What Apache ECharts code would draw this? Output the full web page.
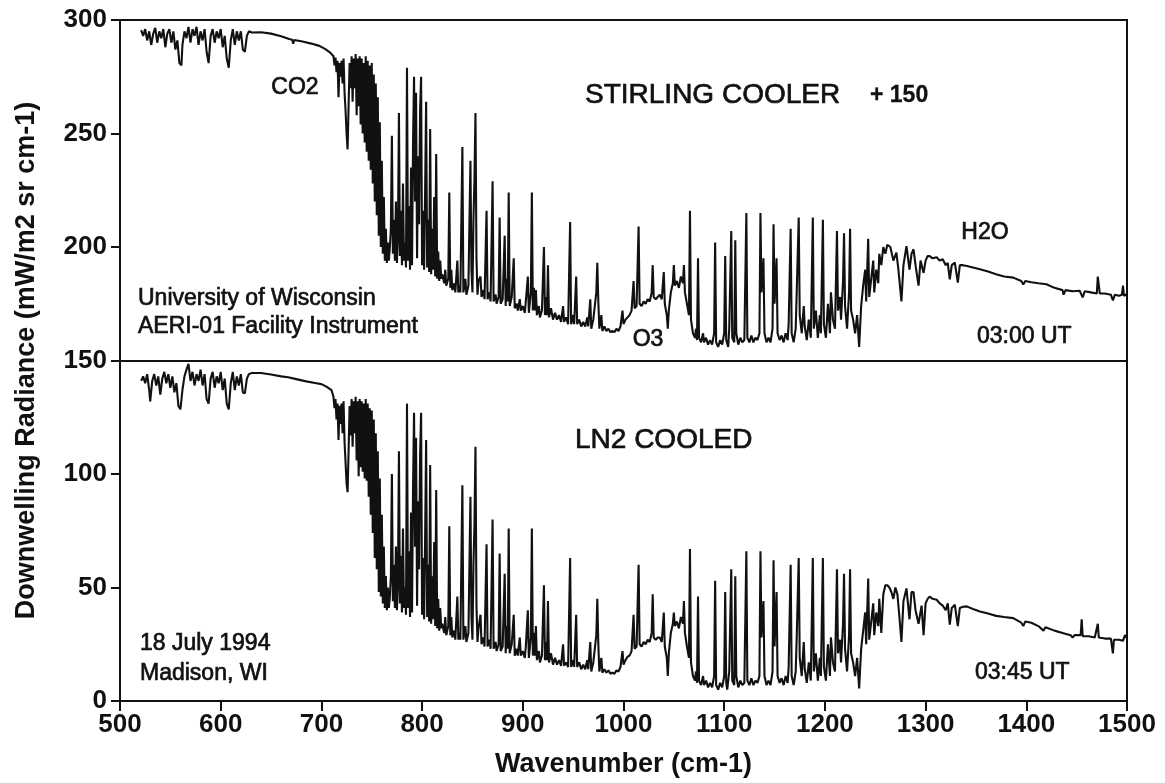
<!DOCTYPE html>
<html>
<head>
<meta charset="utf-8">
<title>AERI-01 downwelling radiance</title>
<script src="https://cdn.jsdelivr.net/npm/echarts@6/dist/echarts.min.js"></script>
<style>
  html, body { margin: 0; padding: 0; background: #ffffff; }
  #chart { width: 1165px; height: 783px; }
</style>
</head>
<body>
<div id="chart"></div>
<script>
// Offset applied to the Stirling-cooler spectrum so both spectra share one axis ("+ 150").
const STIRLING_OFFSET = 150;

// Stirling-cooler spectrum, 03:00 UT: [wavenumber cm-1, radiance mW/m2 sr cm-1]
const stirlingSpectrum = [
  [521,145.5],[523,143],[525,146],[527,141],[529,145],[531,139],[533,144],[535,146.5],[537,140],[539,145],
  [541,142],[543,146],[545,138],[547,144],[549,146],[551,140],[553,145],[555,137],[557,141],[559,131],
  [561,130],[562,139],[564,145],[566,142],[568,147],[570,140],[572,146],[574,143],[576,147],[578,139],
  [580,145],[582,141],[584,146],[586,136],[588,131],[590,143],[592,146],[594,140],[596,145],[598,142],
  [600,146],[602,138],[604,143],[606,133],[608,129],[610,141],[612,146],[614,139],[616,145],[618,141],
  [620,145],[622,137],[624,136],[626,143],[628,145],[631,144.5],
  [640,144.6],[650,144],[660,142.8],[668,141.6],[671,141.3],[672,139.5],[673,141.2],[680,140.6],[690,139.6],
  [698,138.6],[704,137.2],[709,135.5],[712,134],
  [713,130],[714,133.5],[715,127],[716,132],[717,116],[718,131],[719,125],[720,132],[721,122],[722,133],
  [723,118],[724,110],[725,100],[726,93],[727,112],[728,131],[729,120],[730,134],[731,114],[732,133],
  [733,120],[734,135],[735,108],[736,133],[737,112],[738,134],[739,104],[740,133],[741,100],[742,131],
  [743,96],[744,134],[745,92],[746,132],[747,88],[748,130],[749,84],[750,131],[751,78],[752,126],
  [753,70],[754,122],[755,64],[756,116],[757,55],[758,105],[759,50],[760,88],[761,47],[762,72],
  [763,44],[764,58],[765,43],[766,52],[767,44],
  [768,50],[769,58],[770,99],[771,47],[772,62],[773,44],[774,70],[775,43],[776,55],[777,109],
  [778,46],[779,66],[780,42],[781,78],[782,44],[783,52],[784,41],[785,129],[786,44],[787,68],
  [788,40],[789,85],[790,42],[791,96],[792,125],[793,70],[794,118],[795,45],[796,90],[797,60],
  [798,110],[799,125],[800,42],[801,66],[802,40],[803,75],[804,114],[805,41],[806,62],[807,39],
  [808,102],[809,38],[810,58],[811,40],[812,72],[813,37],[814,91],[815,36],[816,48],[817,35],
  [818,44],[819,36],[820,38],[822,34],[823,40],[824,33],[826,36],[827,74],[828,32],[829,40],
  [830,31],[832,34],[833,30],[835,44],[836,30],[837,33],[838,30],[840,94],[841,30],[843,36],
  [844,29],[846,33],[848,88],[849,40],[850,30],[851,62],[852,80],[853,109],[854,45],[855,29],
  [856,35],[858,37],[859,28],[861,31],[862,27],[864,66],[865,27],[867,30],[868,26],[870,79],
  [871,26],[873,29],[874,25],[876,28],[877,63],[878,25],[880,27],[882,55],[883,24],[884,36],
  [885,26],[886,74],[887,24],[889,28],[891,45],[892,23],[894,25],[895,22],[897,27],[898,22],
  [900,24],[902,21],[903,26],[905,37],[906,21],[908,30],[909,74],[910,22],[911,32],[912,22],
  [913,31],[914,20],[916,24],[917,19],[919,22],[921,50],[922,20],[923,28],[924,20],[925,42],
  [926,19],[928,23],[930,18],[932,21],[934,18],[936,20],[938,17],[940,24],[941,17],[943,19],
  [945,16],[947,61],[948,16],[950,20],[951,16],[953,37],[954,16],[956,18],[958,15],[960,17],
  [962,15],[964,19],[965,15],[967,27],[968,14],[970,18],[972,26],[973,30],[974,43],[975,26],
  [976,14],[978,20],[979,13],[981,15],[983,13],[985,14],[987,12.5],[989,13],[991,12.5],[993,14],
  [995,13],[997,15],[999,22],[1000,16],[1002,18],[1004,19],[1006,20],[1008,22],[1010,35],[1011,23],
  [1013,24],[1015,59],[1016,25],[1018,24],[1020,26],[1022,25],[1024,27],[1026,26],[1028,30],[1029,42],
  [1030,28],[1032,27],[1034,28],[1036,29],[1038,27],[1040,39],[1041,25],[1043,20],[1044,14],[1045,22],
  [1047,30],[1049,34],[1050,42],[1051,33],[1053,35],[1055,32],[1057,37],[1059,34],[1060,42],[1061,30],
  [1063,25],[1065,20],[1066,66],[1067,18],[1069,12],[1071,10],[1072,14],[1073,9],[1074,45],[1075,10],
  [1077,8],[1079,12],[1080,8],[1082,10],[1084,7],[1086,9],[1088,7],[1090,12],[1091,52],[1092,8],
  [1094,6],[1096,9],[1098,7],[1100,12],[1101,46],[1102,9],[1104,6],[1105,14],[1107,57],[1108,10],
  [1110,8],[1111,53],[1112,12],[1114,7],[1116,10],[1118,8],[1120,9],[1122,65],[1123,10],[1125,8],
  [1127,11],[1129,8],[1131,10],[1133,9],[1135,12],[1136,65],[1137,30],[1139,45],[1140,12],[1142,8],
  [1144,10],[1146,8],[1148,14],[1149,60],[1150,25],[1152,45],[1153,12],[1155,9],[1157,11],[1159,8],
  [1161,12],[1163,9],[1164,16],[1166,58],[1167,12],[1169,8],[1171,14],[1172,30],[1174,63],[1175,20],
  [1177,12],[1179,24],[1180,15],[1182,9],[1184,18],[1186,10],[1188,63],[1189,14],[1191,22],[1193,10],
  [1195,20],[1196,12],[1198,62],[1199,16],[1201,10],[1203,25],[1205,12],[1206,30],[1208,18],[1210,14],
  [1212,57],[1213,22],[1215,28],[1216,18],[1218,35],[1219,56],[1220,24],[1222,14],[1224,30],[1225,58],
  [1226,22],[1228,18],[1230,12],[1232,20],[1234,6],[1236,24],[1238,33],[1240,40],[1241,26],[1243,53.6],
  [1244,28],[1246,36],[1248,44],[1249,30],[1251,40],[1253,34],[1254,47],
  [1256,42],[1258,50],[1260,47],[1262,51],[1265,50],[1268,44],[1271,47.5],[1273,40],[1276,26],[1278,42],
  [1281,50.4],[1284,40],[1286,47],[1288,49],[1290,42],[1293,33],[1295,44],[1298,38.6],[1300,44],[1302,46],
  [1304,46],[1307,45],[1311,45.5],[1314,44],[1317,44.6],[1320,42],[1322,43],[1324,35.7],[1326,42],[1329,43.1],
  [1332,34.3],[1334,42],[1337,42],[1341,41.6],[1347,41],[1354,40.2],[1362,39.2],[1370,38],[1378,37],[1387,36.5],
  [1395,35],[1397,33.5],[1399,35],[1405,34.5],[1412,34],[1420,33.6],[1428,32],[1436,31],[1437,29],[1439,31],
  [1446,30.5],[1453,30.7],[1456,27.8],[1458,30.5],[1464,30],[1470,29.5],[1471,37],[1473,29.5],[1478,29.5],[1484,29],
  [1486,26.5],[1488,29],[1492,28.5],[1495,29],[1496,33],[1497,28.5],[1500,29.3]
];

// LN2-cooled spectrum, 03:45 UT: [wavenumber cm-1, radiance mW/m2 sr cm-1]
const ln2Spectrum = [
  [521,141],[523,143],[525,140],[527,144],[529,137],[530,132],[532,141],[534,144],[536,139],[538,143],
  [540,135],[542,142],[544,145],[546,140],[548,144],[550,138],[552,143],[554,136],[556,140],[558,130],
  [560,128.5],[562,137],[564,143],[566,146],[568,148.5],[570,141],[572,145],[574,139],[576,144],[578,141],
  [580,146],[582,139],[584,144],[586,133],[588,131],[590,142],[592,145],[594,138],[596,143],[598,140],
  [600,145],[602,137],[604,142],[606,131],[608,128.5],[610,140],[612,145],[614,137],[616,143],[618,139],
  [620,144],[622,136],[624,135.5],[626,142],[628,144],[631,144.5],
  [640,144.5],[650,143.8],[660,143],[667,142.6],[675,141.8],[685,140.8],[695,140],[700,139.6],[705,138.5],[710,137],
  [712,134],[713,129],[714,133],[715,124],[716,131],[717,115],[718,130],[719,122],[720,131],[721,118],
  [722,132],[723,114],[724,105],[725,96],[726,92],[727,110],[728,130],[729,117],[730,133],[731,112],
  [732,132],[733,118],[734,134],[735,106],[736,132],[737,99],[738,133],[739,103],[740,132],[741,101],
  [742,131],[743,98],[744,133],[745,97],[746,131],[747,90],[748,129],[749,82],[750,128],[751,74],
  [752,124],[753,63],[754,118],[755,58],[756,110],[757,48],[758,98],[759,46],[760,82],[761,43],
  [762,68],[763,41],[764,55],[765,40],[766,50],[767,41],
  [768,46],[769,55],[770,100],[771,44],[772,60],[773,41],[774,68],[775,40],[776,52],[777,110],
  [778,43],[779,64],[780,39],[781,76],[782,41],[783,50],[784,38],[785,131],[786,41],[787,66],
  [788,37],[789,83],[790,39],[791,94],[792,127],[793,68],[794,116],[795,42],[796,88],[797,58],
  [798,108],[799,127],[800,38],[801,63],[802,36],[803,72],[804,115],[805,37],[806,60],[807,35],
  [808,104],[809,34],[810,55],[811,36],[812,70],[813,33],[814,93],[815,32],[816,45],[817,31],
  [818,41],[819,32],[820,34],[822,30],[823,37],[824,29],[826,33],[827,77],[828,29],[829,37],
  [830,28],[832,31],[833,27],[835,46],[836,27],[837,30],[838,27],[840,95],[841,27],[843,33],
  [844,26],[846,30],[848,90],[849,37],[850,27],[851,60],[852,78],[853,112],[854,42],[855,26],
  [856,32],[858,38],[859,25],[861,28],[862,24],[864,69],[865,24],[867,27],[868,23],[870,80],
  [871,23],[873,26],[874,22],[876,25],[877,65],[878,22],[880,24],[882,56],[883,21],[884,33],
  [885,23],[886,76],[887,21],[889,25],[891,38],[892,20],[894,23],[895,20],[897,28],[898,20],
  [900,22],[902,19],[903,24],[905,40],[906,19],[908,28],[909,76],[910,20],[911,30],[912,20],
  [913,33],[914,18],[916,22],[917,17],[919,20],[921,51],[922,18],[923,26],[924,18],[925,44],
  [926,17],[928,21],[930,16],[932,19],[934,16],[936,18],[938,15.5],[940,25],[941,15.5],[943,17],
  [945,15],[947,63],[948,15],[950,18],[951,15],[953,38],[954,15],[956,17],[958,14],[960,16],
  [962,14],[964,18],[965,14],[967,26],[968,13],[970,17],[972,25],[973,29],[974,45],[975,25],
  [976,13],[978,19],[979,12.5],[981,14],[983,12.5],[985,13.5],[987,12],[989,12.5],[991,12],[993,13.5],
  [995,13],[997,15],[999,22],[1000,16],[1002,18],[1004,19.5],[1006,20],[1008,22],[1010,38],[1011,23],
  [1013,24],[1015,60],[1016,25],[1018,24],[1020,26],[1022,25],[1024,27],[1026,26],[1028,30],[1029,47],
  [1030,28],[1032,27],[1034,28],[1036,28],[1038,26],[1040,39],[1041,24],[1043,19],[1044,11],[1045,21],
  [1047,30],[1049,34],[1050,39],[1051,33],[1053,35],[1055,32],[1057,37],[1059,34],[1060,44],[1061,30],
  [1063,24],[1065,19],[1066,67],[1067,17],[1069,11],[1071,9],[1072,13],[1073,8],[1074,46],[1075,9],
  [1077,7],[1079,11],[1080,7],[1082,9],[1084,6],[1086,8],[1088,6],[1090,11],[1091,53],[1092,7],
  [1094,5],[1096,8],[1098,6],[1100,11],[1101,48],[1102,8],[1103,5],[1105,13],[1107,58],[1108,9],
  [1110,7],[1111,55],[1112,11],[1114,6],[1116,9],[1118,7],[1120,8],[1122,66],[1123,9],[1125,7],
  [1127,10],[1129,7],[1131,9],[1133,8],[1135,11],[1136,66],[1137,28],[1139,44],[1140,11],[1142,7],
  [1144,9],[1146,7],[1148,13],[1149,62],[1150,24],[1152,48],[1153,11],[1155,8],[1157,10],[1159,7],
  [1161,11],[1163,8],[1164,15],[1166,60],[1167,11],[1169,7],[1171,13],[1172,28],[1174,63],[1175,19],
  [1177,11],[1179,26],[1180,14],[1182,8],[1184,17],[1186,9],[1188,63],[1189,13],[1191,21],[1193,9],
  [1195,19],[1196,11],[1198,63],[1199,15],[1201,9],[1203,25],[1205,11],[1206,28],[1208,17],[1210,13],
  [1212,58],[1213,21],[1215,27],[1216,17],[1218,34],[1219,56],[1220,23],[1222,13],[1224,29],[1225,58],
  [1226,21],[1228,17],[1230,11],[1232,19],[1234,5.5],[1236,23],[1238,31],[1240,39],[1241,25],[1243,54],
  [1244,27],[1246,35],[1248,43],[1249,29],[1251,39],[1253,33],[1254,45],[1256,30],[1258,47],[1260,51],
  [1262,51],[1264,50],[1266,48],[1268,45],[1270,50],[1272,47],[1274,37],[1276,26],[1278,44],[1281,49.6],
  [1284,36],[1286,48],[1288,48],[1290,40],[1293,34],[1296,42],[1298,29],[1300,43],[1302,45],[1304,46],
  [1307,45],[1311,44.6],[1314,43],[1317,42],[1320,40],[1322,43],[1324,33.6],[1326,41],[1329,42.4],[1332,33],
  [1334,41],[1337,41.5],[1341,41.7],[1347,40.5],[1354,39.4],[1362,38.5],[1370,37.5],[1378,37],[1387,36.5],[1395,34.5],
  [1397,33],[1399,35],[1405,34.5],[1412,33],[1417,31],[1419,32.5],[1420,32.2],[1428,31],[1436,30],[1444,29],
  [1446,28],[1448,29],[1454,29],[1455,36],[1456,28.5],[1462,28.5],[1468,28],[1471,34],[1472,28],[1478,27.5],
  [1484,27.5],[1486,21],[1487,27],[1492,27],[1496,26.5],[1498,29],[1500,27.7]
];

// Axis ranges and tick steps
const xRange = [500, 1500];
const xStep = 100;
const yRange = [0, 300];
const yStep = 50;
// Boundary between the two stacked spectra
const panelDivider = 150;

const FONT = '"Liberation Sans", Arial, Helvetica, sans-serif';
const INK = '#111111';

// The Stirling spectrum is drawn shifted up by the labelled offset
const stirlingPlotted = stirlingSpectrum.map(p => [p[0], p[1] + STIRLING_OFFSET]);

function label(text, x, y, size, opts) {
  opts = opts || {};
  return {
    type: 'text',
    x: x, y: y,
    silent: true,
    z: 10,
    style: {
      text: text,
      font: (opts.weight || 'normal') + ' ' + size + 'px ' + FONT,
      fill: INK,
      stroke: INK,
      lineWidth: opts.stroke == null ? 0.7 : opts.stroke,
      align: opts.align || 'left',
      verticalAlign: 'middle'
    }
  };
}

const chart = echarts.init(document.getElementById('chart'), null, { renderer: 'canvas' });

chart.setOption({
  animation: false,
  backgroundColor: '#ffffff',
  grid: {
    left: 120, right: 38, top: 20, bottom: 80,
    show: true, borderColor: INK, borderWidth: 2, backgroundColor: 'transparent'
  },
  xAxis: {
    type: 'value',
    min: xRange[0], max: xRange[1], interval: xStep,
    axisLine: { show: true, lineStyle: { color: INK, width: 2 } },
    axisTick: { show: true, length: 10, lineStyle: { color: INK, width: 2 } },
    axisLabel: {
      color: INK, fontSize: 26, fontWeight: 'bold', fontFamily: FONT, margin: 11,
      formatter: v => String(v)
    },
    splitLine: { show: false },
    name: 'Wavenumber (cm-1)',
    nameLocation: 'middle',
    nameGap: 50,
    nameTextStyle: { color: INK, fontSize: 27, fontWeight: 'bold', fontFamily: FONT }
  },
  yAxis: {
    type: 'value',
    min: yRange[0], max: yRange[1], interval: yStep,
    axisLine: { show: true, lineStyle: { color: INK, width: 2 } },
    axisTick: { show: true, length: 9, lineStyle: { color: INK, width: 2 } },
    axisLabel: {
      color: INK, fontSize: 26, fontWeight: 'bold', fontFamily: FONT, margin: 13,
      formatter: v => String(v)
    },
    splitLine: { show: false },
    name: 'Downwelling Radiance (mW/m2 sr cm-1)',
    nameLocation: 'middle',
    nameGap: 80,
    nameTextStyle: { color: INK, fontSize: 27, fontWeight: 'bold', fontFamily: FONT }
  },
  series: [
    {
      name: 'STIRLING COOLER',
      type: 'line',
      data: stirlingPlotted,
      showSymbol: false,
      silent: true,
      lineStyle: { color: INK, width: 2.1 }
    },
    {
      name: 'LN2 COOLED',
      type: 'line',
      data: ln2Spectrum,
      showSymbol: false,
      silent: true,
      lineStyle: { color: INK, width: 2.1 },
      markLine: {
        silent: true,
        symbol: 'none',
        label: { show: false },
        lineStyle: { color: INK, width: 2, type: 'solid' },
        data: [{ yAxis: panelDivider }]
      }
    }
  ],
  graphic: [
    label('CO2', 295, 88, 23, { align: 'center' }),
    label('STIRLING COOLER', 585, 95, 28),
    label('+ 150', 870, 96, 23, { weight: 'bold', stroke: 0.3 }),
    label('H2O', 985, 233, 23, { align: 'center' }),
    label('University of Wisconsin', 138, 299, 23),
    label('AERI-01 Facility Instrument', 138, 327, 23),
    label('O3', 648, 340, 23, { align: 'center' }),
    label('03:00 UT', 977, 337, 23),
    label('LN2 COOLED', 575, 440, 28),
    label('18 July 1994', 140, 644, 23),
    label('Madison, WI', 140, 674, 23),
    label('03:45 UT', 975, 673, 23)
  ]
});
</script>
</body>
</html>
